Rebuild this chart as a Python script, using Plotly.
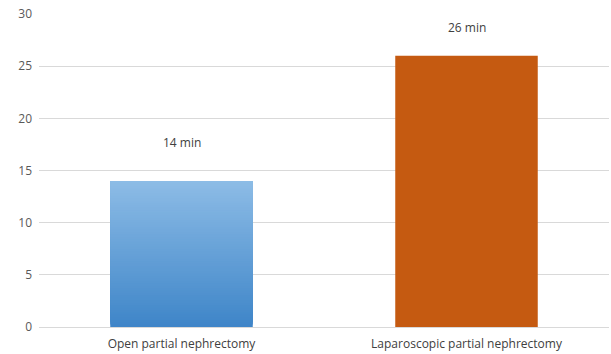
import plotly.graph_objects as go

categories = ["Open partial nephrectomy", "Laparoscopic partial nephrectomy"]
values = [14, 26]
labels = ["14 min", "26 min"]
tick_vals = [0, 5, 10, 15, 20, 25, 30]

fig = go.Figure()

# Gradient blue bar built from overlapping slices of the first value
n = 60
top = (0x8D, 0xBC, 0xE6)
bot = (0x3E, 0x85, 0xC8)
v0 = values[0]
for i in range(n):
    t = (i + 0.5) / n
    c = tuple(int(round(bot[k] + (top[k] - bot[k]) * t)) for k in range(3))
    fig.add_trace(go.Bar(
        x=[categories[0]], y=[v0 * (n - i) / n], base=[v0 * i / n],
        width=0.5, marker=dict(color="rgb(%d,%d,%d)" % c, line=dict(width=0)),
        showlegend=False, hoverinfo="skip"))

fig.add_trace(go.Bar(
    x=[categories[1]], y=[values[1]], width=0.5,
    marker=dict(color="#C55A11", line=dict(width=0)), showlegend=False))

shifts = [38, 28]
for cat, v, lab, s in zip(categories, values, labels, shifts):
    fig.add_annotation(x=cat, y=v, text=lab, showarrow=False, yshift=s,
                       font=dict(size=12, color="#404040"))

fig.update_layout(
    width=611, height=354,
    margin=dict(l=39, r=2, t=14, b=27),
    barmode="overlay", bargap=0.5,
    paper_bgcolor="white", plot_bgcolor="white",
    font=dict(family="Open Sans", size=12, color="#595959"),
    xaxis=dict(categoryorder="array", categoryarray=categories, showgrid=False,
               showline=True, linecolor="#d9d9d9", linewidth=1, ticks="",
               automargin=False, ticklabelstandoff=6,
               tickfont=dict(size=12, color="#404040")),
    yaxis=dict(range=[0, 30], tickvals=tick_vals, showgrid=True, gridcolor="#d9d9d9",
               gridwidth=1, zeroline=False, showline=False, ticks="",
               automargin=False, ticklabelstandoff=6,
               tickfont=dict(size=12, color="#595959")),
)

fig.write_html("out.html", config={"displayModeBar": False},
               post_script="document.body.style.margin='0';")
